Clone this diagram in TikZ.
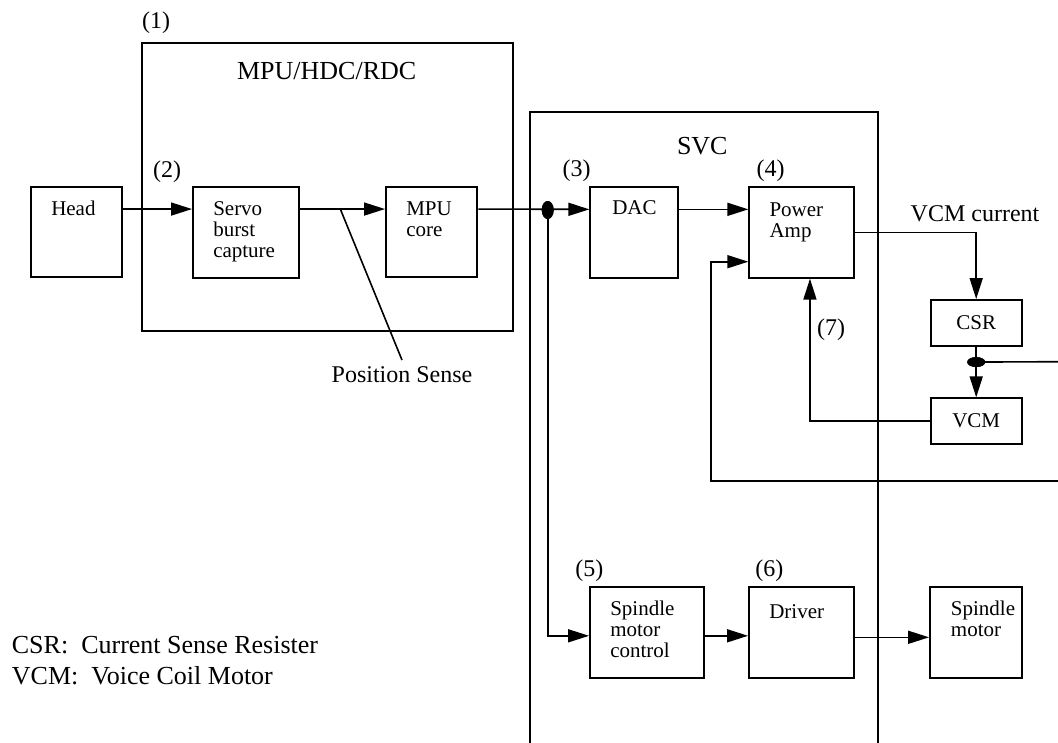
\documentclass[tikz,border=0pt]{standalone}
\usepackage{fontspec}
\setmainfont{Liberation Serif}
\usetikzlibrary{arrows.meta,calc,shapes.geometric}
\begin{document}
\begin{tikzpicture}[x=1pt,y=-1pt,
  blk/.style={draw, line width=1.9pt, inner sep=0pt},
  btxt/.style={font=\fontsize{21}{21}\selectfont, align=left, inner sep=0pt, anchor=north west},
  lbl/.style={font=\fontsize{24}{28}\selectfont, inner sep=1.5pt},
  ttl/.style={font=\fontsize{26}{30}\selectfont, inner sep=1.5pt},
  wire/.style={line width=1.6pt},
  arr/.style={wire, -{Triangle[length=21pt,width=13pt]}},
  dotv/.style={ellipse, fill=black, inner sep=0pt, minimum width=12pt, minimum height=18pt},
  doth/.style={ellipse, fill=black, inner sep=0pt, minimum width=18pt, minimum height=10pt},
]
\useasboundingbox (0,0) rectangle (1058,742);

% outer frames
\node[blk, minimum width=370.7pt, minimum height=287.7pt] (mpu) at (327.35,187.15) {};
\draw[line width=1.9pt] (530,745) -- (530,111.7) -- (877.7,111.7) -- (877.7,745);

% blocks
\node[blk, minimum width=91.3pt, minimum height=90.3pt] (head) at (76.65,232.15) {};
\node[blk, minimum width=106.3pt, minimum height=91pt] (servo) at (246.15,232.5) {};
\node[blk, minimum width=91.3pt, minimum height=90.3pt] (core) at (431.65,232.15) {};
\node[blk, minimum width=87.4pt, minimum height=90.4pt] (dac) at (634,232.5) {};
\node[blk, minimum width=104.7pt, minimum height=90.4pt] (pa) at (801.65,232.5) {};
\node[blk, minimum width=91pt, minimum height=45.7pt] (csr) at (976.2,322.85) {\fontsize{21}{21}\selectfont CSR};
\node[blk, minimum width=91pt, minimum height=45.7pt] (vcm) at (976.2,421.15) {\fontsize{21}{21}\selectfont VCM};
\node[blk, minimum width=114.3pt, minimum height=91pt] (smc) at (647.15,632.8) {};
\node[blk, minimum width=105.3pt, minimum height=91pt] (drv) at (801.65,632.8) {};
\node[blk, minimum width=91.7pt, minimum height=91pt] (spm) at (975.85,632.8) {};

% block texts
\node[btxt] (headT) at ([shift={(21pt,-14.3pt)}]head.north west) {\strut Head};
\node[btxt] (servoT) at ([shift={(21pt,-14.3pt)}]servo.north west) {\strut Servo\\burst\\capture};
\node[btxt] (coreT) at ([shift={(21pt,-14.3pt)}]core.north west) {\strut MPU\\core};
\node[btxt] (dacT) at ([shift={(22.7pt,-13.5pt)}]dac.north west) {\strut DAC};
\node[btxt] (paT) at ([shift={(21pt,-14.8pt)}]pa.north west) {\strut Power\\Amp};
\node[btxt] (smcT) at ([shift={(21pt,-14.3pt)}]smc.north west) {\strut Spindle\\motor\\control};
\node[btxt] (drvT) at ([shift={(21pt,-17.3pt)}]drv.north west) {\strut Driver};
\node[btxt] (spmT) at ([shift={(21.7pt,-14.3pt)}]spm.north west) {\strut Spindle\\motor};

% labels
\node[lbl] (n1) at (156,22.7) {(1)};
\node[ttl] (mpuT) at (326.7,70.7) {MPU/HDC/RDC};
\node[lbl] (n2) at (167,171.7) {(2)};
\node[ttl] (svcT) at (702.3,146) {SVC};
\node[lbl] (n3) at (576.7,170.7) {(3)};
\node[lbl] (n4) at (770.7,170.7) {(4)};
\node[lbl] (n7) at (831,329.3) {(7)};
\node[lbl] (vcmcur) at (975,213.3) {VCM current};
\node[lbl] (n5) at (589.3,570.7) {(5)};
\node[lbl] (n6) at (769.3,570.7) {(6)};
\node[lbl] (ps) at (402,374.3) {Position Sense};
\node[anchor=north west, font=\fontsize{26}{31}\selectfont, align=left, inner sep=0pt] (legend) at (11.7,631.9)
  {\strut CSR:\ \ Current Sense Resister\\VCM:\ \ Voice Coil Motor};

% junction dots
\node[dotv] (dot1) at (547.7,210) {};
\node[doth] (dot2) at ($(csr.south)!0.304!(vcm.north)$) {};
\coordinate (pstap) at (340.7,210);
\coordinate (e1) at (1058,361.7);
\coordinate (e2) at (1058,481);
\coordinate (fb) at (710.7,481);

% connectors
\draw[arr] ([yshift=-23pt]head.north east) -- ([yshift=-23pt]servo.north west);
\draw[arr] ([yshift=-23pt]servo.north east) -- ([yshift=-23pt]core.north west);
\draw[wire] (pstap) -- ([yshift=4.5pt]ps.north);
\draw[arr] ([yshift=-23pt]core.north east) -- ([yshift=-23pt]dac.north west);
\draw[arr] ([yshift=-23pt]dac.north east) -- ([yshift=-23pt]pa.north west);
\draw[arr] (dot1) |- ([yshift=-3pt]smc.west);
\draw[arr] (pa.east) -| (csr.north);
\draw[arr] (csr.south) -- (vcm.north);
\draw[wire] (dot2.center) -- (e1);
\draw[arr] (vcm.west) -| ([xshift=8.3pt]pa.south);
\draw[arr] (e2) -- (fb) |- ([yshift=-29.2pt]pa.west);
\draw[arr] ([yshift=-3pt]smc.east) -- ([yshift=-3pt]drv.west);
\draw[arr] ([yshift=-4.5pt]drv.east) -- ([yshift=-4.5pt]spm.west);
\node[dotv] at (dot1) {};
\node[doth] at (dot2) {};
\end{tikzpicture}
\end{document}
